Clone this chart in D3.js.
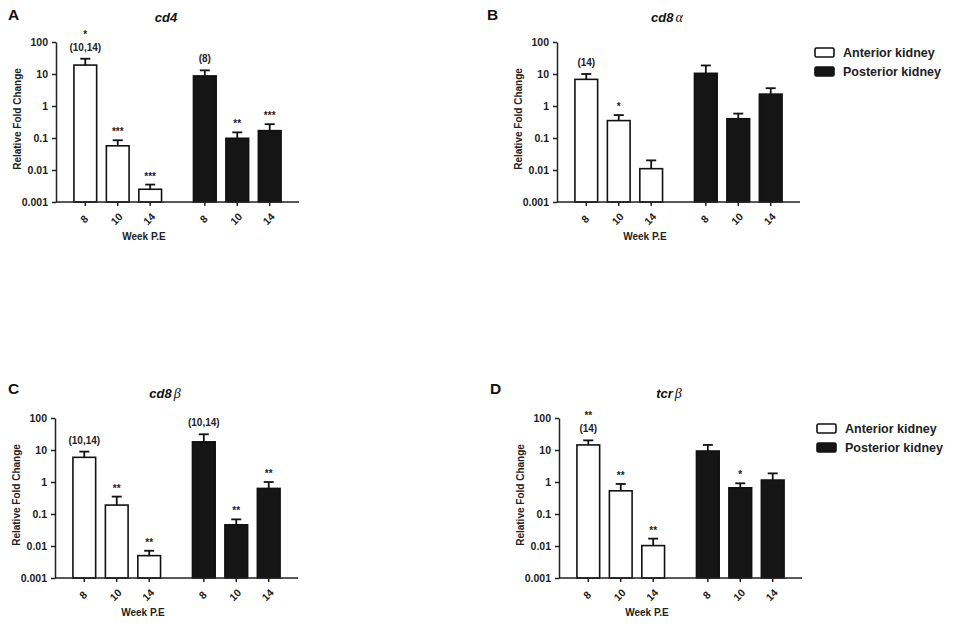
<!DOCTYPE html>
<html>
<head>
<meta charset="utf-8">
<script src="https://cdn.jsdelivr.net/npm/d3@7"></script>
<style>
body { margin:0; background:#fff; }
svg { font-family: "Liberation Sans", Arial, sans-serif; }
.axis path, .axis line { stroke:#222; stroke-width:1.5; }
.axis text { font-size:10.5px; font-weight:bold; fill:#222; }
.lbl { font-size:10px; font-weight:bold; fill:#222; }
</style>
</head>
<body>
<div id="chart"></div>
<script>
var weeks = ["8", "10", "14"];
var tissues = ["Anterior kidney", "Posterior kidney"];
var panelLetters = ["A", "B", "C", "D"];
var geneNames = ["cd4", "cd8", "cd8", "tcr"];
var geneGreek = ["", "α", "β", "β"];
var yTicks = [0.001, 0.01, 0.1, 1, 10, 100];

// order: anterior 8,10,14 then posterior 8,10,14
var cd4Mean  = [19, 0.057, 0.0025, 8.7, 0.098, 0.17];
var cd4Upper = [30, 0.085, 0.0035, 13, 0.15, 0.27];
var cd4Marks = [["*", "(10,14)"], ["***"], ["***"], ["(8)"], ["**"], ["***"]];

var cd8aMean  = [6.8, 0.35, 0.011, 10.5, 0.4, 2.35];
var cd8aUpper = [10, 0.52, 0.02, 18.5, 0.58, 3.6];
var cd8aMarks = [["(14)"], ["*"], [], [], [], []];

var cd8bMean  = [5.9, 0.19, 0.005, 18, 0.046, 0.63];
var cd8bUpper = [8.9, 0.35, 0.0071, 31, 0.068, 1.0];
var cd8bMarks = [["(10,14)"], ["**"], ["**"], ["(10,14)"], ["**"], ["**"]];

var tcrbMean  = [14.4, 0.53, 0.0103, 9.3, 0.66, 1.15];
var tcrbUpper = [20, 0.87, 0.017, 14.4, 0.91, 1.86];
var tcrbMarks = [["**", "(14)"], ["**"], ["**"], [], ["*"], []];

var allMean = [cd4Mean, cd8aMean, cd8bMean, tcrbMean];
var allUpper = [cd4Upper, cd8aUpper, cd8bUpper, tcrbUpper];
var allMarks = [cd4Marks, cd8aMarks, cd8bMarks, tcrbMarks];

var W = 243, H = 160;
// plot origins (top-left of axes) and letter offsets
var panelPos = [
  {x: 56, y: 42, lx: -48, ly: -22, legend: false},
  {x: 557, y: 42, lx: -70, ly: -22, legend: true},
  {x: 55, y: 418, lx: -47, ly: -24, legend: false},
  {x: 559, y: 418, lx: -69, ly: -24, legend: true}
];

var svg = d3.select("#chart").append("svg")
  .attr("width", 957)
  .attr("height", 629);

var y = d3.scaleLog().domain([0.001, 100]).range([H, 0]);

var outer = d3.scaleBand().domain(tissues).range([0, W])
  .paddingInner(0.267).paddingOuter(0.15);
var inner = d3.scaleBand().domain(weeks).range([0, outer.bandwidth()])
  .paddingInner(0.3).paddingOuter(0);

function xc(d) { return outer(d.tissue) + inner(d.week) + inner.bandwidth() / 2; }

panelPos.forEach(function(p, i) {
  var rows = [];
  tissues.forEach(function(t, ti) {
    weeks.forEach(function(w, wi) {
      var k = ti * 3 + wi;
      rows.push({tissue: t, ti: ti, week: w, mean: allMean[i][k], upper: allUpper[i][k], marks: allMarks[i][k]});
    });
  });

  var g = svg.append("g").attr("transform", "translate(" + p.x + "," + p.y + ")");

  // panel letter
  g.append("text")
    .attr("x", p.lx).attr("y", p.ly)
    .attr("font-size", 15.5).attr("font-weight", "bold").attr("fill", "#111")
    .text(panelLetters[i]);

  // title
  var tt = g.append("text")
    .attr("x", 110).attr("y", -20)
    .attr("text-anchor", "middle")
    .attr("font-size", 13).attr("font-weight", "bold").attr("font-style", "italic")
    .attr("fill", "#111");
  tt.append("tspan").text(geneNames[i]);
  if (geneGreek[i]) {
    tt.append("tspan").attr("dx", 2)
      .attr("font-family", "'Liberation Serif', 'DejaVu Serif', serif")
      .attr("font-weight", "normal")
      .attr("font-size", 14)
      .text(geneGreek[i]);
  }

  // y axis
  g.append("g").attr("class", "axis")
    .call(d3.axisLeft(y).tickValues(yTicks).tickSize(4).tickSizeOuter(0)
      .tickFormat(function(d) { return String(d); }))
    .selectAll("text").attr("dx", -1);

  g.append("text")
    .attr("class", "lbl")
    .attr("transform", "translate(-39," + (H / 2 - 3) + ")rotate(-90)")
    .attr("text-anchor", "middle")
    .attr("dy", "0.35em")
    .attr("font-size", 12)
    .text("Relative Fold Change");

  // bars
  g.selectAll("rect.bar")
    .data(rows)
    .enter().append("rect")
      .attr("class", "bar")
      .attr("x", function(d) { return outer(d.tissue) + inner(d.week); })
      .attr("width", inner.bandwidth())
      .attr("y", function(d) { return y(d.mean); })
      .attr("height", function(d) { return H - y(d.mean); })
      .attr("fill", function(d) { return d.ti == 0 ? "#fff" : "#151515"; })
      .attr("stroke", "#111")
      .attr("stroke-width", 1.6);

  // error bars (upper only)
  var eb = g.selectAll("g.err").data(rows).enter().append("g").attr("class", "err");
  eb.append("line")
    .attr("x1", xc).attr("x2", xc)
    .attr("y1", function(d) { return y(d.mean); })
    .attr("y2", function(d) { return y(d.upper); })
    .attr("stroke", "#111").attr("stroke-width", 1.8);
  eb.append("line")
    .attr("x1", function(d) { return xc(d) - 5; })
    .attr("x2", function(d) { return xc(d) + 5; })
    .attr("y1", function(d) { return y(d.upper); })
    .attr("y2", function(d) { return y(d.upper); })
    .attr("stroke", "#111").attr("stroke-width", 1.8);

  // significance marks, stacked upwards from the cap
  rows.forEach(function(d) {
    var m = d.marks.slice().reverse();
    m.forEach(function(s, j) {
      var star = s.indexOf("*") == 0;
      g.append("text")
        .attr("class", "lbl")
        .attr("x", xc(d))
        .attr("y", y(d.upper) - 8 - j * 16 + (star ? 3 : 0))
        .attr("text-anchor", "middle")
        .attr("font-size", star ? 13 : 11)
        .text(s);
    });
  });

  // x axis
  var xa = g.append("g").attr("class", "axis").attr("transform", "translate(0," + H + ")");
  xa.append("line").attr("x1", 0).attr("x2", W).attr("y1", 0).attr("y2", 0);
  xa.selectAll("line.tk").data(rows).enter().append("line")
    .attr("class", "tk")
    .attr("x1", xc).attr("x2", xc).attr("y1", 0).attr("y2", 4);
  xa.selectAll("text").data(rows).enter().append("text")
    .attr("transform", function(d) { return "translate(" + (xc(d) - 1) + ",17)rotate(-45)"; })
    .attr("text-anchor", "middle")
    .attr("dy", "0.35em")
    .text(function(d) { return d.week; });

  g.append("text")
    .attr("class", "lbl")
    .attr("x", 88).attr("y", H + 38)
    .attr("text-anchor", "middle")
    .attr("font-size", 10)
    .text("Week P.E");

  // legend
  if (p.legend) {
    var lg = g.append("g").attr("transform", "translate(258,6)");
    var li = lg.selectAll("g").data(tissues).enter().append("g")
      .attr("transform", function(d, k) { return "translate(0," + (k * 19) + ")"; });
    li.append("rect")
      .attr("width", 19).attr("height", 9).attr("rx", 1.5)
      .attr("fill", function(d, k) { return k == 0 ? "#fff" : "#151515"; })
      .attr("stroke", "#111").attr("stroke-width", 1.6);
    li.append("text")
      .attr("x", 28).attr("y", 4.5).attr("dy", "0.35em")
      .attr("font-size", 12.5).attr("font-weight", "bold").attr("fill", "#222")
      .text(function(d) { return d; });
  }
});
</script>
</body>
</html>
